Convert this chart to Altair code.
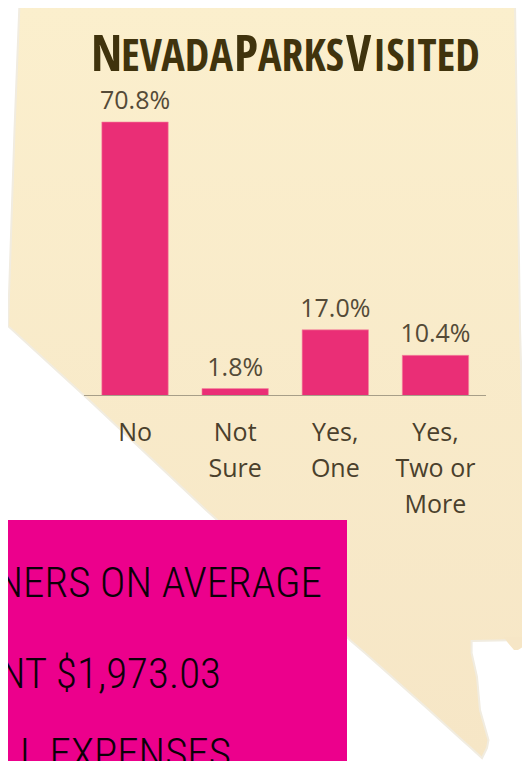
import altair as alt
import pandas as pd

# chart values
categories = ["No", "Not Sure", "Yes, One", "Yes, Two or More"]
axis_labels = ["No", "Not\nSure", "Yes,\nOne", "Yes,\nTwo or\nMore"]
values = [70.8, 1.8, 17.0, 10.4]
value_labels = ["70.8%", "1.8%", "17.0%", "10.4%"]

# state silhouette (page pixels)
outline_y = [3, 130, 325, 326, 400, 510, 638, 640, 641, 653, 677, 710, 740, 748, 758]
outline_left = [19.5, 14.5, 8, 8, 89, 206, 348, 350, 351, 365, 392, 429, 462, 471, 482]
outline_right = [515, 517, 520, 520, 522, 527, 529, 529, 471.6, 471.6, 477, 480, 488.5, 487, 482]
lobe_y = [637, 643, 650]
lobe_left = [503.7, 508, 514]
lobe_right = [529, 529, 518]

title_parts = ["N", "EVADA", "P", "ARKS", "V", "ISITED"]
title_big = [True, False, True, False, True, False]
title_x = [91, 121, 234, 258, 346, 373]

box_lines = ["PLANNERS ON AVERAGE", "SPENT $1,973.03", "ON ALL EXPENSES"]
box_right = [322, 221, 231]
box_base = [597, 688, 768]

PX = alt.Scale(domain=[8, 522], range=[0, 514])
PY = alt.Scale(domain=[761, 8], range=[753, 0])
BAND = alt.Scale(domain=categories, range=[77, 477.5], paddingInner=0.337, paddingOuter=0.168)
VAL = alt.Scale(domain=[-94.6, 100.3], range=[753, 0])

X = lambda f: alt.X(f, scale=PX, axis=None)
Y = lambda f: alt.Y(f, scale=PY, axis=None)
B = alt.X("cat:N", scale=BAND, axis=None, sort=categories)
V = alt.Y("val:Q", scale=VAL, axis=None)

fill = alt.Gradient(gradient="linear", x1=0, x2=0, y1=0, y2=1,
                    stops=[alt.GradientStop(offset=0, color="#fbefcd"),
                           alt.GradientStop(offset=1, color="#f6e6c6")])

body = alt.Chart(pd.DataFrame({"y": outline_y, "l": outline_left, "r": outline_right})).mark_area(
    orient="horizontal", color=fill, stroke="#f1ece0", strokeWidth=2, clip=True
).encode(y=Y("y:Q"), x=X("l:Q"), x2="r:Q")
lobe = alt.Chart(pd.DataFrame({"y": lobe_y, "l": lobe_left, "r": lobe_right})).mark_area(
    orient="horizontal", color="#f6e6c6", clip=True
).encode(y=Y("y:Q"), x=X("l:Q"), x2="r:Q")

df = pd.DataFrame({"cat": categories, "val": values, "txt": value_labels, "lab": axis_labels})
bars = alt.Chart(df).mark_bar(color="#ea2e76", stroke="#f58aa0", strokeWidth=0.6).encode(x=B, y=V, y2=alt.datum(0))
base = alt.Chart(df).mark_rule(color="#a79e88", strokeWidth=1.2).encode(
    x=alt.value(76), x2=alt.value(478), y=alt.Y("z:Q", scale=VAL, axis=None)
).transform_calculate(z="0")
vals = alt.Chart(df).mark_text(font="Open Sans", fontSize=25, color="#544a37", baseline="alphabetic", dy=-13).encode(
    x=B, y=V, text="txt:N")
cats = alt.Chart(df).mark_text(font="Open Sans", fontSize=25, color="#4a402c", baseline="alphabetic",
                               lineBreak="\n", lineHeight=36, dy=45.5).encode(
    x=B, y=alt.Y("z:Q", scale=VAL, axis=None), text="lab:N").transform_calculate(z="0")

tdf = pd.DataFrame({"t": title_parts, "x": title_x, "big": title_big, "b": [71] * 6})
title = alt.Chart(tdf).mark_text(font="Open Sans Condensed", color="#40330d", align="left",
                                 baseline="alphabetic").encode(
    x=X("x:Q"), y=Y("b:Q"), text="t:N",
    size=alt.Size("big:N", scale=alt.Scale(domain=[True, False], range=[50, 44]), legend=None))

box = alt.Chart(pd.DataFrame({"x": [8], "x2": [347], "y": [520], "y2": [761]})).mark_rect(
    color="#ec008c", clip=True).encode(x=alt.X("x:Q", scale=PX, axis=None), x2="x2:Q",
                                       y=alt.Y("y:Q", scale=PY, axis=None), y2="y2:Q")
box_text = alt.Chart(pd.DataFrame({"t": box_lines, "x": box_right, "y": box_base})).mark_text(
    font="Roboto Condensed", fontWeight=300, fontSize=43, color="#0b0008", align="right", baseline="alphabetic").encode(
    x=X("x:Q"), y=Y("y:Q"), text="t:N")

chart = alt.layer(body, lobe, bars, base, vals, cats, title, box, box_text).resolve_scale(
    x="independent", y="independent", size="independent"
).properties(width=514, height=753, padding=0, autosize="none", background="#ffffff"
).configure_view(stroke=None)

chart.save("out.html", embed_options={"renderer": "svg", "actions": False})
